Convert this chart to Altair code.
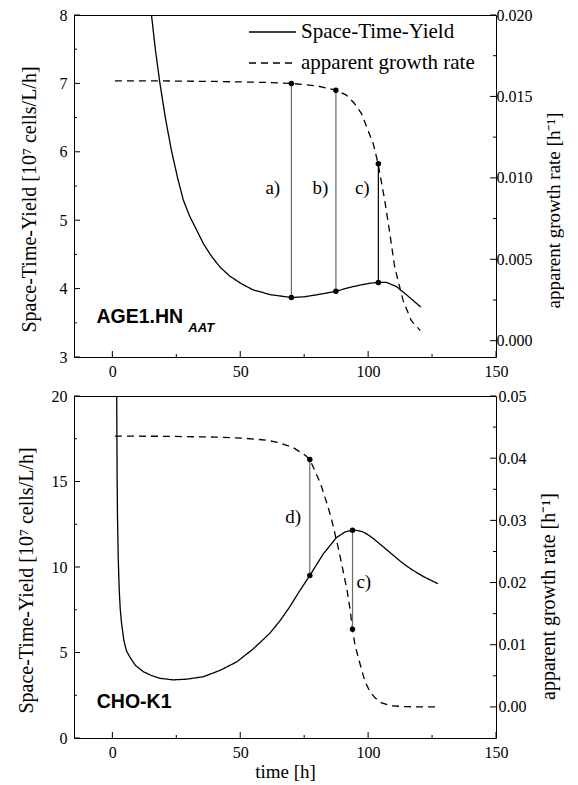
import altair as alt
import pandas as pd

# ---------------- axis tick values ----------------
x_major = [0, 50, 100, 150]
x_minor = [25, 75, 125]

top_y_major = [3, 4, 5, 6, 7, 8]
top_y_minor = [3.5, 4.5, 5.5, 6.5, 7.5]
top_g_major = [0.000, 0.005, 0.010, 0.015, 0.020]
top_g_minor = [0.0025, 0.0075, 0.0125, 0.0175]

bot_y_major = [0, 5, 10, 15, 20]
bot_y_minor = [2.5, 7.5, 12.5, 17.5]
bot_g_major = [0.00, 0.01, 0.02, 0.03, 0.04, 0.05]
bot_g_minor = [0.005, 0.015, 0.025, 0.035, 0.045]

series = ["Space-Time-Yield", "apparent growth rate"]

# ---------------- top panel: AGE1.HN_AAT ----------------
top_sty_t = [15.3, 16.8, 18.6, 20.8, 23.2, 25.5, 27.7, 30.2, 32.9, 35.7, 38.8, 42.2,
             46.0, 50.5, 55.1, 62.0, 70.0, 75.0, 80.0, 87.4, 92.0, 96.7, 101.0, 104.0,
             107.2, 111.1, 115.0, 120.6]
top_sty_v = [8.00, 7.50, 7.00, 6.48, 6.00, 5.62, 5.30, 5.06, 4.86, 4.65, 4.47, 4.31,
             4.18, 4.07, 3.98, 3.91, 3.87, 3.88, 3.91, 3.96, 4.01, 4.05, 4.08, 4.09,
             4.09, 4.03, 3.91, 3.73]
top_gr_t = [1.0, 20.0, 40.0, 60.0, 70.0, 80.0, 87.4, 91.5, 94.5, 97.4, 102.0, 103.9,
            106.5, 108.5, 110.4, 113.7, 116.9, 120.4]
top_gr_v = [0.01596, 0.01595, 0.01592, 0.01586, 0.01580, 0.01565, 0.01538, 0.01508,
            0.01460, 0.01395, 0.01210, 0.01087, 0.00862, 0.00657, 0.00451, 0.00246,
            0.00123, 0.00062]
top_mark_t = [70.0, 87.4, 104.0]
top_mark_sty = [3.87, 3.96, 4.09]
top_mark_gr = [0.01580, 0.01538, 0.01087]
top_lbl = ["a)", "b)", "c)"]
top_lbl_t = [65.6, 84.4, 100.6]
top_lbl_v = [5.47, 5.47, 5.47]

# ---------------- bottom panel: CHO-K1 ----------------
bot_sty_t = [1.7, 1.85, 2.0, 2.3, 2.7, 3.1, 3.6, 4.5, 5.5, 6.9, 9.0, 12.1, 15.2, 18.6,
             23.8, 29.0, 35.5, 42.0, 48.6, 55.0, 61.6, 65.5, 69.4, 73.0, 77.2, 82.4,
             87.6, 91.0, 93.9, 96.0, 98.0, 100.0, 102.0, 105.9, 109.8, 113.7, 117.6,
             121.5, 127.3]
bot_sty_v = [20.0, 15.5, 13.0, 10.5, 8.6, 7.5, 6.7, 5.7, 5.1, 4.72, 4.25, 3.88, 3.66,
             3.49, 3.40, 3.44, 3.58, 3.95, 4.45, 5.20, 6.13, 6.85, 7.68, 8.55, 9.50,
             10.75, 11.72, 12.05, 12.15, 12.13, 12.05, 11.88, 11.67, 11.18, 10.69, 10.20,
             9.80, 9.45, 9.02]
bot_gr_t = [1.0, 20.0, 40.0, 51.5, 60.3, 65.0, 70.7, 75.3, 77.2, 81.4, 83.3, 85.3,
            87.0, 88.7, 90.2, 91.8, 93.0, 93.9, 94.8, 96.1, 98.7, 100.5, 102.6, 105.0,
            108.5, 115.0, 127.3]
bot_gr_v = [0.04355, 0.04352, 0.04340, 0.04320, 0.04290, 0.04250, 0.04170, 0.04050,
            0.03980, 0.03590, 0.03350, 0.03080, 0.02790, 0.02490, 0.02190, 0.01870,
            0.01550, 0.01250, 0.01010, 0.00800, 0.00420, 0.00260, 0.00150, 0.00070,
            0.00020, 0.00003, 0.00000]
bot_mark_t = [77.2, 93.9]
bot_mark_sty = [9.50, 12.15]
bot_mark_gr = [0.03980, 0.01250]
bot_lbl = ["d)", "c)"]
bot_lbl_t = [73.8, 101.2]
bot_lbl_v = [12.9, 9.13]

SERIF = "Liberation Serif"
SANS = "Liberation Sans"
W, H = 422, 342

dash_scale = alt.Scale(domain=series, range=[[1, 0], [7, 5]])
xs = alt.Scale(domain=[-15, 150], nice=False, zero=False)


def panel(sty_t, sty_v, gr_t, gr_v, mk_t, mk_s, mk_g, lbl, lbl_t, lbl_v,
          ylo, yhi, glo, ghi, y_major, y_minor, g_major, g_minor, gfmt,
          xtitle, show_legend, rpad, ltpad, rty, rfs, name_layers, dark_label):
    ys = alt.Scale(domain=[ylo, yhi], nice=False, zero=False)
    gs = alt.Scale(domain=[glo, ghi], nice=False, zero=False)

    sty_df = pd.DataFrame({"t": sty_t, "v": sty_v, "s": series[0]})
    gr_df = pd.DataFrame({"t": gr_t, "v": gr_v, "s": series[1]})
    mk_df = pd.DataFrame({"t": mk_t, "v": mk_s, "g": mk_g, "lbl": lbl})
    lb_df = pd.DataFrame({"t": lbl_t, "v": lbl_v, "lbl": lbl})

    xaxis = alt.Axis(values=x_major, ticks=False, domain=False, grid=False,
                     labelPadding=6, labelFlush=False, titlePadding=2,
                     titleFontWeight=400, titleFontSize=19)
    yaxis_l = alt.Axis(orient="left", values=y_major, ticks=False, domain=False,
                       grid=False, labelPadding=7, labelFlush=False,
                       titlePadding=ltpad, titleY=H / 2 + 13)
    yaxis_r = alt.Axis(orient="right", values=g_major, format=gfmt, ticks=False,
                       domain=False, grid=False, labelPadding=rpad, labelFlush=False,
                       titlePadding=12, titleAngle=270, titleBaseline="top",
                       titleY=H / 2 + rty, titleFontSize=rfs)

    if show_legend:
        leg = alt.Legend(orient="none", legendX=174, legendY=7, title=None,
                         symbolType="stroke", symbolSize=2209, symbolStrokeWidth=1.3,
                         symbolStrokeColor="black", labelFont=SERIF, labelFontSize=21,
                         labelColor="black", labelOffset=4, labelLimit=400,
                         clipHeight=20, rowPadding=10, padding=0)
    else:
        leg = None

    def X(first=False):
        if first:
            return alt.X("t:Q", scale=xs, axis=xaxis, title=xtitle)
        return alt.X("t:Q", scale=xs, title=xtitle)

    def YL(field="v", ax=None):
        return alt.Y(f"{field}:Q", scale=ys, axis=ax,
                     title="Space-Time-Yield [10\u2077 cells/L/h]")

    def YR(field="v", ax=None):
        return alt.Y(f"{field}:Q", scale=gs, axis=ax,
                     title="apparent growth rate [h\u207b\u00b9]")

    layers = []
    layers.append(alt.Chart(sty_df).mark_line(color="black", strokeWidth=1.3, clip=True).encode(
        x=X(True), y=YL("v", yaxis_l),
        strokeDash=alt.StrokeDash("s:N", scale=dash_scale, legend=leg)))
    layers.append(alt.Chart(gr_df).mark_line(color="black", strokeWidth=1.3, clip=True).encode(
        x=X(), y=YR("v", yaxis_r),
        strokeDash=alt.StrokeDash("s:N", scale=dash_scale, legend=leg)))
    layers.append(alt.Chart(mk_df).transform_calculate(
        gl=f"{ylo} + (datum.g - ({glo})) / ({ghi} - ({glo})) * ({yhi} - {ylo})"
    ).mark_rule(strokeWidth=1.2).encode(
        x=X(), y=YL("v"), y2="gl:Q",
        color=alt.condition(alt.datum.lbl == dark_label, alt.value("black"),
                            alt.value("#6a6a6a"))))
    layers.append(alt.Chart(mk_df).mark_circle(size=30, color="black", opacity=1).encode(
        x=X(), y=YL("v")))
    layers.append(alt.Chart(mk_df).mark_circle(size=30, color="black", opacity=1).encode(
        x=X(), y=YR("g")))
    layers.append(alt.Chart(lb_df).mark_text(font=SERIF, fontSize=19, align="right",
                                             baseline="middle", color="black").encode(
        x=X(), y=YL("v"), text="lbl:N"))
    # inward ticks
    layers.append(alt.Chart(pd.DataFrame({"t": x_major})).mark_rule(color="black").encode(
        x=X(), y=alt.value(H), y2=alt.value(H - 6)))
    layers.append(alt.Chart(pd.DataFrame({"t": x_minor})).mark_rule(color="black").encode(
        x=X(), y=alt.value(H), y2=alt.value(H - 3)))
    layers.append(alt.Chart(pd.DataFrame({"v": y_major})).mark_rule(color="black").encode(
        y=YL("v"), x=alt.value(0), x2=alt.value(6)))
    layers.append(alt.Chart(pd.DataFrame({"v": y_minor})).mark_rule(color="black").encode(
        y=YL("v"), x=alt.value(0), x2=alt.value(3)))
    layers.append(alt.Chart(pd.DataFrame({"v": g_major})).mark_rule(color="black").encode(
        y=YR("v"), x=alt.value(W), x2=alt.value(W - 6)))
    layers.append(alt.Chart(pd.DataFrame({"v": g_minor})).mark_rule(color="black").encode(
        y=YR("v"), x=alt.value(W), x2=alt.value(W - 3)))
    for (txt, nt, nv, size, style) in name_layers:
        layers.append(
            alt.Chart(pd.DataFrame({"t": [nt], "v": [nv], "n": [txt]})).mark_text(
                font=SANS, fontSize=size, fontWeight="bold", fontStyle=style,
                align="left", baseline="alphabetic", color="black").encode(
                x=X(), y=YL("v"), text="n:N"))

    return alt.layer(*layers).resolve_scale(y="independent").properties(
        width=W, height=H)


top = panel(top_sty_t, top_sty_v, top_gr_t, top_gr_v, top_mark_t, top_mark_sty,
            top_mark_gr, top_lbl, top_lbl_t, top_lbl_v,
            3, 8, -0.001, 0.020, top_y_major, top_y_minor, top_g_major, top_g_minor,
            ".3f", None, True, 0, 20, 24, 19,
            [("AGE1.HN", -6.2, 3.5, 19.5, "normal"), ("AAT", 29.7, 3.36, 13, "italic")],
            "c)")
bot = panel(bot_sty_t, bot_sty_v, bot_gr_t, bot_gr_v, bot_mark_t, bot_mark_sty,
            bot_mark_gr, bot_lbl, bot_lbl_t, bot_lbl_v,
            0, 20, -0.005, 0.05, bot_y_major, bot_y_minor, bot_g_major, bot_g_minor,
            ".2f", "time [h]", False, 2, 15, 29, 20,
            [("CHO-K1", -6.1, 1.76, 19.5, "normal")],
            "none")

chart = alt.vconcat(top, bot, spacing=7).resolve_scale(
    strokeDash="independent").resolve_legend(strokeDash="independent").properties(
    padding={"left": 7, "top": -2, "right": 0, "bottom": 0},
    background="white",
).configure_view(stroke="black", strokeWidth=1).configure_axis(
    labelFont=SERIF, labelFontSize=16, labelColor="black",
    titleFont=SERIF, titleFontSize=20, titleFontWeight="normal", titleColor="black",
).configure_axisX(titleFontWeight=400)

chart.save("out.html", embed_options={"renderer": "svg", "actions": False})
